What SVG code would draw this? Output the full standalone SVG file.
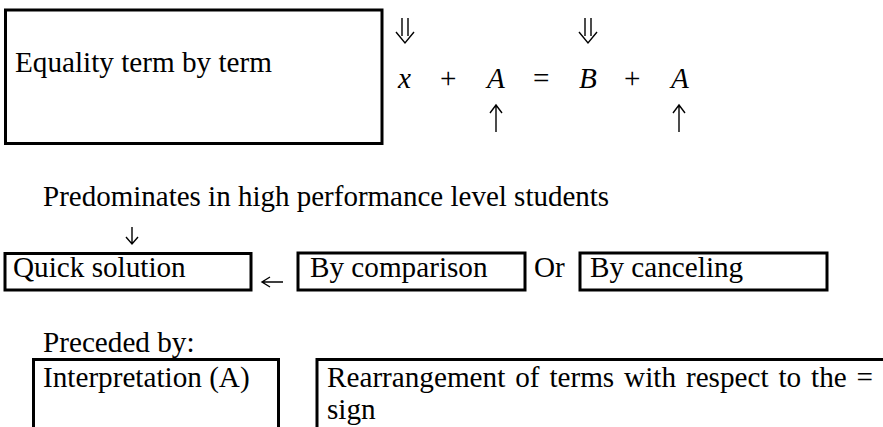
<svg xmlns="http://www.w3.org/2000/svg" width="883" height="427" viewBox="0 0 883 427">
<style>
.box{fill:#fff;stroke:#000;stroke-width:3}
.t{font-family:"Liberation Serif","Times New Roman",serif;font-size:29.2px;fill:#000}
.i{font-style:italic}
.arr{fill:none;stroke:#000;stroke-width:1.4;stroke-linecap:butt;stroke-linejoin:miter}
</style>
<rect width="883" height="427" fill="#fff"/>
<g id="equality">
<rect class="box" x="5.5" y="10" width="376.5" height="133.5"/>
<text class="t" x="15" y="72">Equality term by term</text>
</g>
<g id="equation">
<text class="t i" x="398" y="88">x</text>
<text class="t" x="440" y="88">+</text>
<text class="t i" x="487" y="88">A</text>
<text class="t" x="533" y="88">=</text>
<text class="t i" x="579" y="88">B</text>
<text class="t" x="624" y="88">+</text>
<text class="t i" x="671" y="88">A</text>
</g>
<g id="predominates">
<text class="t" x="43" y="206" style="font-size:29px">Predominates in high performance level students</text>
</g>
<g id="quick">
<rect class="box" x="5" y="253.5" width="246" height="36.5"/>
<text class="t" x="13" y="277">Quick solution</text>
</g>
<g id="comparison">
<rect class="box" x="298" y="253" width="227" height="37"/>
<text class="t" x="310" y="277">By comparison</text>
</g>
<g id="or">
<text class="t" x="534" y="277">Or</text>
</g>
<g id="canceling">
<rect class="box" x="580" y="253" width="247" height="37"/>
<text class="t" x="590" y="277">By canceling</text>
</g>
<g id="preceded">
<text class="t" x="43" y="352">Preceded by:</text>
</g>
<g id="interpretation">
<rect class="box" x="33.5" y="359.5" width="245" height="80"/>
<text class="t" x="43" y="387">Interpretation (A)</text>
</g>
<g id="rearrangement">
<rect class="box" x="317" y="359.5" width="580" height="80"/>
<text class="t" x="327" y="387" word-spacing="2.6">Rearrangement of terms with respect to the =</text>
<text class="t" x="327" y="419">sign</text>
</g>
<g id="connectors">
<path class="arr" d="M402,18 V36 M408,18 V36 M396,32 L405,43 L414,32"/>
<path class="arr" d="M585,18 V36 M591,18 V36 M579,32 L588,43 L597,32"/>
<path class="arr" d="M496,132 V106 M490,113 L496,105 L502,113"/>
<path class="arr" d="M679,132 V106 M673,113 L679,105 L685,113"/>
<path class="arr" d="M132,227 V243 M126,237 L132,244 L138,237"/>
<path class="arr" d="M283,282 H263 M270,277 L262,282 L270,287"/>
</g>
</svg>
